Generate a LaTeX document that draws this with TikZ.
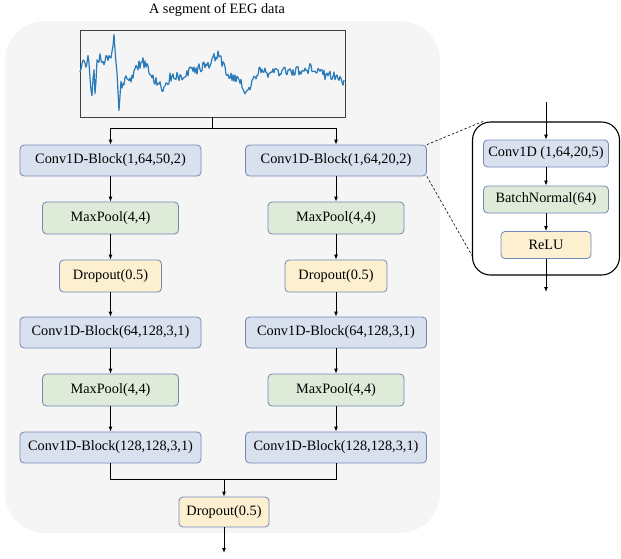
\documentclass[tikz,border=0pt]{standalone}
\usepackage{fontspec}
\setmainfont{Liberation Serif}
\usetikzlibrary{arrows.meta,calc}
\definecolor{bgray}{HTML}{F5F5F5}
\definecolor{bluefill}{HTML}{D9E1EF}
\definecolor{greenfill}{HTML}{DFEBD9}
\definecolor{yellowfill}{HTML}{FCF0D0}
\definecolor{boxline}{HTML}{7088B8}
\definecolor{eegblue}{HTML}{2A7AB8}
\begin{document}
\begin{tikzpicture}[x=1pt,y=-1pt,
  font=\rmfamily\fontsize{14.3}{16}\selectfont,
  blk/.style={draw=boxline,line width=0.8pt,rounded corners=4pt,inner sep=0pt},
  convb/.style={blk,fill=bluefill,minimum width=181pt,minimum height=31pt},
  poolb/.style={blk,fill=greenfill,minimum width=136pt,minimum height=32pt},
  dropb/.style={blk,fill=yellowfill,minimum width=102pt,minimum height=32pt},
  smallb/.style={blk,minimum height=27pt},
  arr/.style={line width=0.9pt,-{Latex[length=5pt,width=4pt]}},
  ln/.style={line width=0.9pt},
  eeg/.style={eegblue,line width=1.2pt,line join=round}]
\useasboundingbox (0,0) rectangle (621,558);
% background
\fill[bgray,rounded corners=40pt] (5,21) rectangle (440,533);
% title and EEG
\node (title) at (217,10) {A segment of EEG data};
\node[draw=black!75,line width=0.9pt,minimum width=265pt,minimum height=87pt,inner sep=0pt] (eegbox) at (212.5,73.5) {};
\pgfmathsetseed{11}
\draw[eeg] (80,72)
 \foreach \xa/\ya/\xb/\yb [evaluate=\xb as \n using {int(\xb-\xa)}] in
 {80/72/83/62, 83/62/86/66, 86/66/88/52, 88/52/90/75, 90/75/92/97, 92/97/94/68, 94/68/95/98, 95/98/97/62,
  97/62/100/58, 100/58/104/62, 104/62/108/57, 108/57/112/55, 112/55/114/33, 114/33/116/60, 116/60/119/108,
  119/108/121/85, 121/85/125/80, 125/80/130/82, 130/82/136/70, 136/70/142/61, 142/61/148/70, 148/70/155/80,
  155/80/162/89, 162/89/170/78, 170/78/180/76, 180/76/190/72, 190/72/200/68, 200/68/210/63, 210/63/218/53,
  218/53/224/68, 224/68/232/78, 232/78/240/81, 240/81/247/93, 247/93/253/80, 253/80/260/71, 260/71/270/73,
  270/73/280/72, 280/72/290/72, 290/72/300/71, 300/71/310/68, 310/68/320/74, 320/74/330/76, 330/76/338/77,
  338/77/344/82}
 { \foreach \i in {1,...,\n} { -- ({\xa+\i},{\ya+(\yb-\ya)*\i/\n+5*rand}) } };
% left column
\node[convb] (c1l) at (110.5,160.5) {Conv1D-Block(1,64,50,2)};
\node[poolb] (p1l) at (110.5,218) {MaxPool(4,4)};
\node[dropb] (d1l) at (110.5,276) {Dropout(0.5)};
\node[convb] (c2l) at (110.5,332.5) {Conv1D-Block(64,128,3,1)};
\node[poolb] (p2l) at (110.5,390) {MaxPool(4,4)};
\node[convb] (c3l) at (110.5,447.5) {Conv1D-Block(128,128,3,1)};
% right column
\node[convb] (c1r) at (336,160.5) {Conv1D-Block(1,64,20,2)};
\node[poolb] (p1r) at (336,218) {MaxPool(4,4)};
\node[dropb] (d1r) at (336,276) {Dropout(0.5)};
\node[convb] (c2r) at (336,332.5) {Conv1D-Block(64,128,3,1)};
\node[poolb] (p2r) at (336,390) {MaxPool(4,4)};
\node[convb] (c3r) at (336,447.5) {Conv1D-Block(128,128,3,1)};
% final
\node[dropb,minimum width=90pt,minimum height=30pt] (d3) at (224,512) {Dropout(0.5)};
\coordinate (out) at (224,553);
% connectors
\draw[arr] (eegbox.south) -- ++(0,10.5) -| (c1l.north);
\draw[arr] (eegbox.south) -- ++(0,10.5) -| (c1r.north);
\foreach \a/\b in {c1l/p1l,p1l/d1l,d1l/c2l,c2l/p2l,p2l/c3l,c1r/p1r,p1r/d1r,d1r/c2r,c2r/p2r,p2r/c3r}
  \draw[arr] (\a) -- (\b);
\coordinate (mj) at (224,479);
\draw[ln] (c3l.south) |- (mj);
\draw[ln] (c3r.south) |- (mj);
\draw[arr] (mj) -- (d3.north);
\draw[arr] (d3.south) -- (out);
% detail panel
\node[draw=black,line width=1.1pt,rounded corners=18pt,minimum width=147pt,minimum height=153pt,inner sep=0pt] (panel) at (546,198.5) {};
\node[smallb,fill=bluefill,minimum width=125pt] (pc) at (546,153.5) {Conv1D (1,64,20,5)};
\node[smallb,fill=greenfill,minimum width=125pt] (pb) at (546,199.5) {BatchNormal(64)};
\node[smallb,fill=yellowfill,minimum width=90pt] (pr) at (546,245) {ReLU};
\coordinate (pin) at (546,102);
\coordinate (pout) at (546,292);
\draw[arr] (pin) -- (pc.north);
\draw[arr] (pc) -- (pb);
\draw[arr] (pb) -- (pr);
\draw[arr] (pr.south) -- (pout);
\draw[line width=0.6pt,dash pattern=on 2.5pt off 2pt] (c1r.north east) -- ($(panel.north west)+(11,0)$);
\draw[line width=0.6pt,dash pattern=on 2.5pt off 2pt] (c1r.south east) -- ($(panel.south west)+(0,-20)$);
\end{tikzpicture}
\end{document}
